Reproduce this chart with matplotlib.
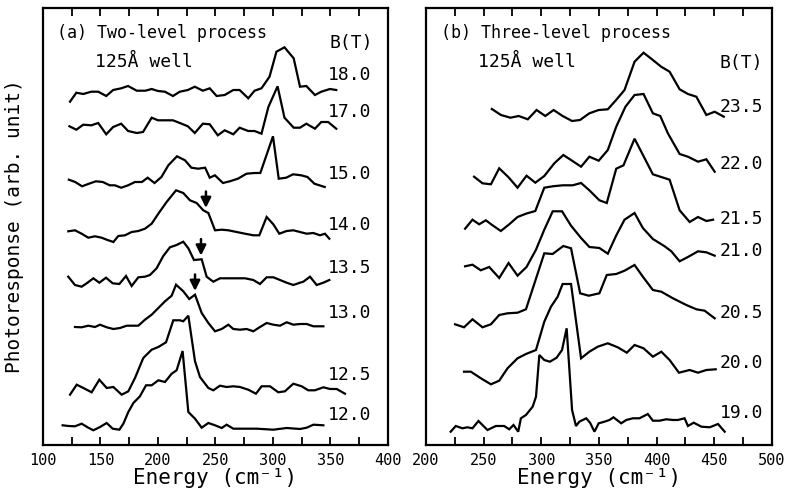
#!/usr/bin/env python3
"""Stacked photoresponse spectra for the 125A well, two- and three-level process."""
import matplotlib
matplotlib.use("Agg")
import matplotlib.pyplot as plt
import numpy as np

# ---- panel (a): two-level process -------------------------------------
FIELDS_A = ["18.0", "17.0", "15.0", "14.0", "13.5", "13.0", "12.5", "12.0"]
OFFSETS_A = [354, 318, 263, 213, 165, 118, 57, 18]

E_A18 = [123.5, 129, 135, 142, 148, 155, 161, 168, 174, 181.5, 189, 194.5, 200, 206, 213, 219, 226,
         232, 239, 245, 251, 258, 265.5, 271, 278.5, 284, 290, 297, 303, 310, 318, 323.5, 329,
         336.5, 342, 349.5, 355]
R_A18 = [-10.7, -1.7, -3, -0.7, -0.7, -5, 1, 2.7, 5, 0.3, 0.3, 2, 0, -0.7, -5, -0.7, 1, 4.3, 0.3,
         2.7, -5, -4, 1, 1, -7.3, 0.3, 2.7, 14.3, 39.3, 43.7, 32.7, 4.3, 5, -4, -0.7, 2, 1]

E_A17 = [123, 129, 135, 142, 148, 155, 161, 168, 174, 181.5, 187, 194.5, 200, 206, 213, 219, 226,
         232, 239, 245, 252, 258, 265.5, 271, 278.5, 284, 290, 296, 304, 310, 318, 323.5, 329,
         336.5, 342, 348, 355]
R_A17 = [0.7, -2.7, 2.3, 1.7, 4, -7.3, 0, 3.3, -4, -6, -5, 9.3, 6.7, 6.7, 6.7, 4, 0.7, -6, 3.3,
         2.7, -8.3, -3.3, -7.3, -0.7, -4, -4, -6.7, 20, 40.7, 9.3, -0.7, -0.7, 3.3, -1.7, 5, 5, -1.7]

E_A15 = [122.5, 128, 134, 140, 146, 152, 158, 162.5, 168, 174, 180, 186, 191, 197, 203, 209, 216.5,
         223.5, 229, 235, 241, 245, 249.5, 256.5, 262.5, 269.5, 277, 284, 289, 300, 305, 311.5,
         317.5, 324.5, 330, 336, 345]
R_A15 = [2.3, 0, -4.3, -1.7, 0.7, 0, -3.3, -3.3, -5.7, -3.3, 0, 0, 4.3, -1, 5, 16.7, 25.7, 21.7,
         14.3, 13.3, 14.3, 4.3, 6.7, -1, 0.7, 3.3, 8.3, 9, 9, 45.7, 3.3, 4.3, 7.7, 6.7, 5, -1.7, -5]

E_A14 = [122, 127.8, 133.6, 139.4, 145.2, 151, 155.4, 161.2, 165.5, 171.3, 177.1, 182.9, 188.7,
         194.5, 200.3, 207.5, 215.7, 222, 227.8, 233.6, 239.4, 243.8, 249.6, 255.4, 261.2, 268.4,
         275.7, 282.9, 288.1, 294.5, 300.3, 305.5, 311.9, 317.7, 323.5, 329.3, 335.1, 340.9,
         345.2, 349]
R_A14 = [0.7, 1.7, -1.7, -5.7, -4.3, -5.7, -7.7, -10, -4, -3.3, 0, 1, 3.3, 8.3, 18.3, 30, 41.7, 39,
         31.7, 29, 21.7, 19, 1.7, 2.3, 1.7, 0, -1.7, -3.3, -3.3, 15, 7.7, -1.7, 1, 1.7, 0, -1.7,
         -1, -3.3, -1.7, -6.7]

E_A135 = [122, 127.8, 133.6, 138, 143.8, 149, 154.8, 160.6, 166.4, 172.2, 177.1, 182.9, 188.7, 193,
          198.8, 204.6, 210.4, 216.2, 222, 226.4, 231.3, 238, 242.3, 248.1, 253.9, 261.2, 268.4,
          275.7, 282.9, 288.7, 294.5, 300.3, 306.1, 311.9, 317.7, 323.5, 326.4, 332.2, 338,
          343.8, 349]
R_A135 = [3.3, -5, -6.7, -3.3, 1.7, -2.7, 2.3, -3.3, -4, 4, -6, 2.7, 3.3, 5, 11.7, 24, 32.7, 35,
          38.3, 31.7, 20, 20.7, 3.3, -1.7, 1.7, 1.7, 1.7, 1.7, 0, -4, 2.7, 2.7, 0, -2.7, -5, -2.7,
          -1.7, 3.3, -5, -2.7, 0]

E_A13 = [127.8, 133.6, 139.4, 145.2, 149.6, 155.4, 161.2, 167, 172.8, 178, 182.9, 188.7, 194.5,
         200.3, 206.1, 211.9, 215.7, 222, 227.2, 232.2, 238, 243.8, 249.6, 255.4, 261.2, 265.5,
         271.3, 277.1, 282.9, 288.7, 294.5, 300.3, 306.1, 311.9, 317.7, 323.5, 329.3, 335.1, 343.8]
R_A13 = [0, -0.3, 1.3, 0, 2.3, -0.3, -2, -1, 1.3, 1.3, 1.3, 7.3, 12.3, 19, 25.7, 31.3, 42.3, 35.7,
         28, 32.3, 14, 4, -4.3, -2, 2.3, -2, -2.7, -2, -4.3, 0, 4, 2.3, 1.3, 4.7, 2.3, 3, 3, 0.7, 0.7]

E_A125 = [123.5, 129.3, 135.1, 142.3, 149, 155.4, 161.2, 168.4, 174.2, 180, 187.2, 194.5, 200.3,
          207, 213.3, 219.1, 222, 226.4, 232.2, 236.5, 243.8, 248.1, 253.9, 259.7, 265.5, 271.3,
          278.5, 285.2, 290.1, 297.4, 304.6, 310.4, 317.7, 324.9, 330.7, 336.5, 343.8, 349.6,
          355.4, 362.6]
R_A125 = [-6.7, 3.3, 0, -4.3, 8.3, 0, 1, -6.7, -3.3, 10, 30, 38.3, 41, 45.7, 67.7, 67.7, 66.7, 72.3,
          26.7, 11, 0, -2.3, 2.3, 1, 1.7, 1, -1.7, -5.7, 1.7, 1.7, -4.3, -3.3, 4.3, 1.7, -2.3,
          -2.3, 0.7, -1, -1, -5.7]

E_A12 = [117.1, 122, 127.8, 133.6, 139.4, 143.8, 149.6, 155.4, 160.6, 166.4, 169.9, 174.2, 178.6,
         184.3, 189.6, 194.5, 200.3, 206.1, 211.9, 216.2, 221.4, 226.4, 232.2, 238, 243.8, 249.6,
         255.4, 259.7, 265.5, 271.3, 278.5, 285.8, 300.3, 311.9, 323.5, 329.3, 335.1, 343.8]
R_A12 = [1.7, 1, 0.7, 3.3, -0.7, -3.3, 0, 4, -1.7, -2.7, 3.3, 15, 24, 30.7, 41.7, 41.7, 46.7, 45,
         53.3, 56.7, 76, 15, 8.3, -0.7, 4, 1.7, -1, 2.3, -1.7, -1.7, -1.7, -1.7, -2.7, -1, -2,
         -0.7, 2.3, 1.7]

# arrows mark the shoulder on the 14.0, 13.5 and 13.0 T traces
ARROW_TRACE = [3, 4, 5]
ARROW_E = [241.7, 237.4, 232.2]

# ---- panel (b): three-level process -----------------------------------
FIELDS_B = ["23.5", "22.0", "21.5", "21.0", "20.5", "20.0", "19.0"]
OFFSETS_B = [329, 265, 223, 182, 123, 75, 19]

E_B235 = [257.1, 265, 273.2, 280.4, 288.3, 295.9, 303.5, 310.7, 318.5, 326.7, 333.6, 341.7, 349.8,
          357.7, 364.9, 372.2, 380.9, 388.7, 396.8, 404, 411.3, 420, 427.2, 434.5, 443.2, 450.4,
          458.3]
R_B235 = [7, 1, -1.7, 0, -3.3, 6, 0, 6, 0, -5, -4, 2.7, 6, 6.7, 16, 26, 54.3, 63.3, 56, 49.3, 44.3,
          26.7, 22, 19.3, 1, 4.3, -0.7]

E_B22 = [241.7, 249, 256.3, 263.5, 271.6, 279.4, 287.2, 294.8, 302.6, 311.3, 319.1, 326.7, 334.5,
         341.7, 349.8, 357.7, 365, 373, 380.9, 388.7, 396.8, 403.2, 409.8, 420, 427.2, 435.9,
         443.2, 450.4]
R_B22 = [3.3, -3.3, -4.3, 11.7, 2.7, -7.7, 4.3, -2.7, 4, 16.7, 25, 19.3, 13.3, 23.3, 19.3, 30,
         53.3, 73.3, 85, 86, 66.7, 64, 46.7, 26, 23.3, 18.3, 20.7, 8.3]

E_B215 = [233.9, 240.3, 246.1, 251.9, 257.7, 264.9, 272.2, 279.4, 286.7, 294.8, 302.6, 309.9, 318.6,
          327.2, 334.5, 341.7, 350.4, 356.8, 365, 371.3, 380.9, 396.8, 411.3, 420, 428.7, 435.9,
          443.2, 449]
R_B215 = [-6.7, 2.3, -2.3, 1.7, -3.3, -9, -2.3, 5, 8.3, 11, 34.3, 35.7, 36.7, 36.7, 39, 31.7, 21.7,
          19, 53.3, 56.7, 83.3, 47.7, 42.3, 11.7, 0, 5, 1, 2.3]

E_B21 = [233.9, 240.3, 247.5, 254.8, 263.5, 271.6, 279.4, 287.2, 295.4, 302.6, 309.9, 318, 325.8,
         334.5, 341.7, 350.4, 357.7, 364.9, 372.2, 380.9, 388.1, 396.8, 407, 412.8, 420, 427.2,
         435.9, 443.2, 450.4]
R_B21 = [-3.3, -1.7, -7.3, -4, -15, 0, -12.7, -4, 13.3, 33.3, 51.7, 51.7, 37.3, 25, 16, 15, 9.3,
         27.3, 43.3, 50, 35, 24, 16.7, 11.7, 1.7, 6, 11.7, 10.7, 7.3]

E_B205 = [225.2, 233, 240.3, 249, 256.3, 263.5, 270.7, 279.4, 286.7, 302.6, 309.8, 319.1, 325.8,
          333.7, 341.1, 350.4, 356.8, 365, 372.2, 380.9, 388.1, 396.8, 404.1, 414.2, 425.8, 434.5,
          441.7, 450.4]
R_B205 = [-2.3, -5.3, 2.7, -5.3, -2.3, 7, 8.7, 9.3, 12.7, 68.7, 68, 76, 73.7, 28.7, 26.3, 28.7, 47,
          48, 51.3, 57, 45.3, 32, 30.3, 23.7, 17, 12.7, 11.3, 3.7]

E_B20 = [233, 238.9, 247.6, 256.3, 263.5, 270.7, 279.4, 286.7, 295.4, 302.6, 308.4, 314.2, 318.5,
         325.8, 334.5, 341.7, 349, 357.7, 366.3, 374.2, 380.9, 388.7, 396.8, 404.1, 411.3, 419.4,
         428.7, 435.9, 443.2, 451.3]
R_B20 = [-1.7, -1.7, -8.3, -14.3, -10.7, 1.7, 11.7, 16, 20, 48.3, 63.3, 73.3, 86, 86, 11.7, 18.3,
         23.3, 26.7, 22.7, 17.3, 25, 21.7, 13.3, 18.3, 10, -2.7, 0, -2.7, 0, 0.7]

E_B19 = [221.4, 225.8, 231.6, 235.9, 240.3, 245.5, 253.3, 260.6, 267.8, 272.2, 275.9, 280, 282.3,
         286.7, 292.5, 295.4, 298.3, 302.6, 307.5, 313.3, 318, 322, 326.7, 330.1, 333, 338.9,
         342.3, 346.1, 349.8, 354.8, 359.1, 362.6, 369.3, 373.7, 379.4, 385.2, 392.4, 396.8,
         402.6, 408.4, 414.2, 418.5, 424.3, 427.2, 432.2, 438.9, 446.1, 453.3, 459.1]
R_B19 = [-5.7, 0, -2.3, -1.3, -2.3, 5, -4, 0, 0, -3.3, 1, -5.7, 7.7, 11, 19.3, 29.3, 71, 66, 64.3,
         68.3, 76, 97.7, 16, 0, 4.3, 7.7, 3.3, -5.7, 2.7, 4.3, 6, 8.7, 2.7, 6, 7.7, 7.7, 12, 5.3,
         5.3, 6.7, 6, 6, 7.7, 0, 3.3, -0.7, -1.3, 2, -5.7]

TRACES_A = [(E_A18, R_A18), (E_A17, R_A17), (E_A15, R_A15), (E_A14, R_A14),
            (E_A135, R_A135), (E_A13, R_A13), (E_A125, R_A125), (E_A12, R_A12)]
TRACES_B = [(E_B235, R_B235), (E_B22, R_B22), (E_B215, R_B215), (E_B21, R_B21),
            (E_B205, R_B205), (E_B20, R_B20), (E_B19, R_B19)]

# label heights above each trace baseline (layout only)
LABEL_DY_A = [16, 15, 8, 7, 12, 14, 13, 12]
LABEL_DY_B = [9, 16, 3, 12, 9, 7, 13]

FONT = "DejaVu Sans Mono"
LW = 1.6


def style_axes(ax, xmin, xmax):
    ax.set_xlim(xmin, xmax)
    ax.set_ylim(0, 437)
    ax.set_xticks(np.arange(xmin, xmax + 1, 50))
    ax.set_xticks(np.arange(xmin, xmax + 1, 25), minor=True)
    ax.set_yticks([])
    ax.tick_params(axis="x", which="both", direction="in", top=True, length=6, width=1.3,
                   labelsize=11, pad=6)
    for lbl in ax.get_xticklabels():
        lbl.set_fontfamily(FONT)
    ax.set_xlabel("Energy (cm⁻¹)", fontsize=15, labelpad=0)
    for spine in ax.spines.values():
        spine.set_linewidth(1.6)


def draw_panel(ax, traces, offsets, fields, label_dy, label_x):
    for (e, r), off, f, dy in zip(traces, offsets, fields, label_dy):
        ax.plot(e, np.asarray(r) + off, color="black", lw=LW, solid_joinstyle="miter")
        ax.text(label_x, off + dy, f, fontsize=13, va="center", ha="left", family=FONT)


def main():
    plt.rcParams["font.family"] = [FONT, "DejaVu Sans"]
    fig = plt.figure(figsize=(7.86, 4.91), dpi=100)
    ax_a = fig.add_axes([0.0547, 0.0937, 0.4389, 0.890])
    ax_b = fig.add_axes([0.542, 0.0937, 0.440, 0.890])

    draw_panel(ax_a, TRACES_A, OFFSETS_A, FIELDS_A, LABEL_DY_A, 348)
    draw_panel(ax_b, TRACES_B, OFFSETS_B, FIELDS_B, LABEL_DY_B, 455)

    for idx, ex in zip(ARROW_TRACE, ARROW_E):
        e, r = TRACES_A[idx]
        tip = np.interp(ex, e, r) + OFFSETS_A[idx] + 1
        ax_a.annotate("", xy=(ex, tip), xytext=(ex, tip + 22),
                      arrowprops=dict(arrowstyle="-|>,head_length=0.6,head_width=0.3",
                                      color="black", lw=1.8))

    style_axes(ax_a, 100, 400)
    style_axes(ax_b, 200, 500)

    ax_a.text(112, 412, "(a) Two-level process", fontsize=12, va="center", family=FONT)
    ax_a.text(145, 383, "125Å well", fontsize=13, va="center", family=FONT)
    ax_a.text(349, 402, "B(T)", fontsize=13, va="center", family=FONT)

    ax_b.text(213, 412, "(b) Three-level process", fontsize=12, va="center", family=FONT)
    ax_b.text(245, 383, "125Å well", fontsize=13, va="center", family=FONT)
    ax_b.text(455, 382, "B(T)", fontsize=13, va="center", family=FONT)

    fig.text(0.019, 0.54, "Photoresponse (arb. unit)", rotation=90, fontsize=14,
             va="center", ha="center", family=FONT)

    fig.savefig("out.png", dpi=100)
    plt.close(fig)


if __name__ == "__main__":
    main()
